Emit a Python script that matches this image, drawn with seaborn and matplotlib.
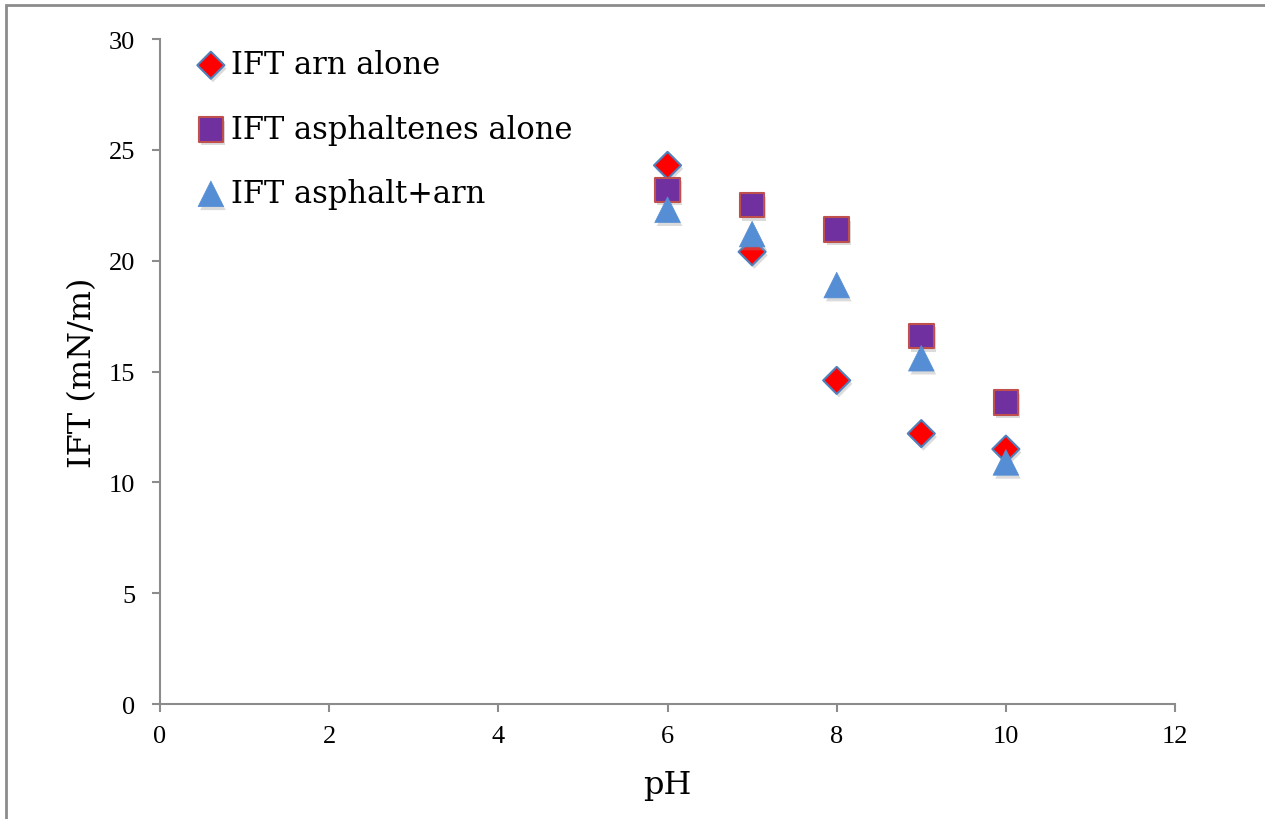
import matplotlib
matplotlib.use('Agg')
import matplotlib.pyplot as plt
import matplotlib.patheffects as pe
import seaborn as sns

# 데이터
ph = [6, 7, 8, 9, 10]
ift_arn = [24.3, 20.4, 14.6, 12.2, 11.5]
ift_asph = [23.2, 22.5, 21.4, 16.6, 13.6]
ift_mix = [22.3, 21.2, 18.9, 15.6, 10.9]

sns.set_style('white')
plt.rcParams['font.family'] = ['DejaVu Serif']
plt.rcParams['text.color'] = 'black'
plt.rcParams['axes.labelcolor'] = 'black'
plt.rcParams['xtick.labelcolor'] = 'black'
plt.rcParams['ytick.labelcolor'] = 'black'

fig = plt.figure(figsize=(12.65, 8.2), dpi=100)
ax = fig.add_axes([0.1265, 0.1402, 0.8024, 0.811])

# 바깥 테두리
fig.patches.append(plt.Rectangle((6 / 1265, -0.05), 1.1, 1 - 6 / 820 + 0.05,
                                 transform=fig.transFigure, fill=False,
                                 edgecolor='#8c8c8c', linewidth=2, zorder=0))

shadow = [pe.SimplePatchShadow(offset=(1.5, -2.5), shadow_rgbFace='#999999', alpha=0.35), pe.Normal()]

sns.scatterplot(x=ph, y=ift_arn, ax=ax, marker='D', s=190, color='#ff0000',
                edgecolor='#4f81bd', linewidth=1.5, label='IFT arn alone', zorder=3)
sns.scatterplot(x=ph, y=ift_asph, ax=ax, marker='s', s=310, color='#7030a0',
                edgecolor='#c0504d', linewidth=1.5, label='IFT asphaltenes alone', zorder=3)
sns.scatterplot(x=ph, y=ift_mix, ax=ax, marker='^', s=340, color='#558ed5',
                edgecolor='#558ed5', linewidth=0.5, label='IFT asphalt+arn', zorder=3)
for c in ax.collections:
    c.set_path_effects(shadow)

ax.set_xlim(0, 12)
ax.set_ylim(0, 30)
ax.set_xticks(range(0, 13, 2))
ax.set_yticks(range(0, 31, 5))
ax.tick_params(axis='both', direction='out', length=6, width=1.5, color='#8c8c8c',
               left=True, bottom=True, labelsize=19, labelfontfamily='Liberation Serif')
ax.tick_params(axis='x', pad=9)
ax.tick_params(axis='y', pad=12)
for s in ['top', 'right']:
    ax.spines[s].set_visible(False)
for s in ['left', 'bottom']:
    ax.spines[s].set_color('#8c8c8c')
    ax.spines[s].set_linewidth(1.5)

ax.set_xlabel('pH', fontsize=23, labelpad=16)
ax.set_ylabel('IFT (mN/m)', fontsize=23, labelpad=8)

leg = ax.legend(loc='upper left', bbox_to_anchor=(0.023, 1.003), frameon=False,
                fontsize=22, handlelength=1.0, handletextpad=0.17,
                labelspacing=1.09, borderaxespad=0)

fig.savefig('out.png', dpi=100)
